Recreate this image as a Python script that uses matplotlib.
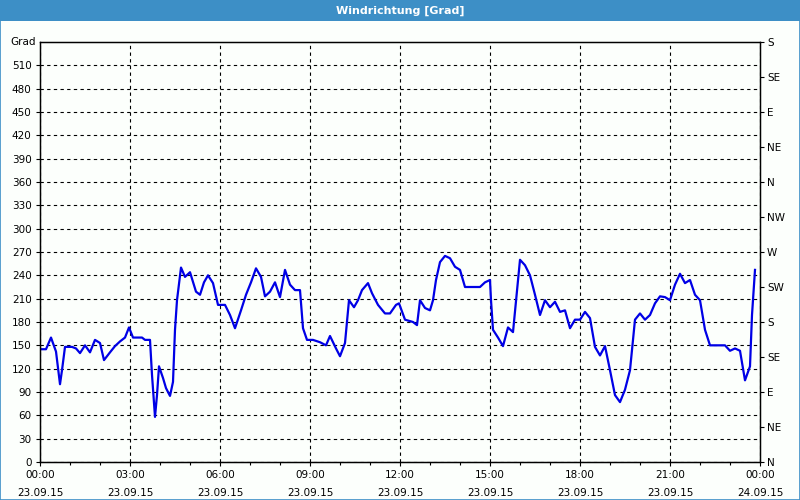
import matplotlib
matplotlib.use('Agg')
from matplotlib import pyplot as plt
from matplotlib.patches import Rectangle

# minutes since 23.09.15 00:00 and wind direction in degrees
minutes = [0, 12, 22, 32, 40, 44, 50, 64, 72, 80,
           90, 100, 110, 120, 128, 140, 150, 160, 170, 178,
           186, 204, 210, 220, 224, 230, 234, 238, 246, 252,
           260, 266, 270, 274, 282, 290, 300, 312, 320, 328,
           336, 346, 356, 370, 380, 390, 402, 412, 422, 432,
           442, 450, 460, 470, 480, 490, 500, 510, 520, 526,
           534, 546, 560, 572, 580, 592, 600, 610, 618, 628,
           636, 644, 656, 664, 676, 690, 700, 712, 718, 730,
           746, 754, 760, 770, 780, 786, 792, 800, 810, 820,
           830, 840, 850, 860, 880, 890, 900, 902, 906, 916,
           926, 936, 946, 960, 970, 980, 990, 1000, 1010, 1020,
           1030, 1040, 1050, 1060, 1070, 1080, 1090, 1100, 1110, 1120,
           1130, 1140, 1150, 1160, 1170, 1180, 1190, 1200, 1210, 1220,
           1230, 1240, 1250, 1260, 1270, 1280, 1290, 1300, 1310, 1320,
           1330, 1340, 1370, 1380, 1390, 1400, 1410, 1420, 1424, 1430]
grad = [145, 145, 160, 142, 100, 118, 148, 148, 146, 140,
        150, 141, 157, 153, 131, 141, 149, 155, 160, 173,
        160, 160, 157, 157, 112, 58, 86, 123, 108, 95,
        85, 103, 170, 208, 250, 238, 244, 219, 215, 231,
        240, 230, 202, 202, 189, 172, 195, 215, 231, 249,
        238, 213, 219, 231, 212, 247, 228, 221, 221, 172,
        157, 157, 154, 150, 162, 146, 136, 153, 208, 199,
        208, 221, 230, 217, 202, 191, 191, 202, 204, 183,
        180, 176, 208, 198, 195, 208, 234, 257, 265, 262,
        251, 247, 225, 225, 225, 231, 234, 208, 170, 160,
        149, 173, 167, 260, 253, 240, 215, 189, 208, 199,
        206, 193, 195, 172, 183, 183, 193, 185, 148, 137,
        149, 118, 86, 77, 93, 118, 183, 191, 183, 189,
        204, 213, 212, 208, 228, 242, 230, 234, 215, 208,
        170, 150, 150, 143, 146, 143, 105, 123, 189, 247]

x_ticks = [0, 180, 360, 540, 720, 900, 1080, 1260, 1440]
x_labels = ['00:00\n23.09.15', '03:00\n23.09.15', '06:00\n23.09.15',
            '09:00\n23.09.15', '12:00\n23.09.15', '15:00\n23.09.15',
            '18:00\n23.09.15', '21:00\n23.09.15', '00:00\n24.09.15']
y_ticks = list(range(0, 511, 30))
dir_ticks = list(range(0, 541, 45))
dir_labels = ['N', 'NE', 'E', 'SE', 'S', 'SW', 'W', 'NW',
              'N', 'NE', 'E', 'SE', 'S']

bar_blue = '#3d8fc6'
fs = 7.5

fig = plt.figure(figsize=(8, 5), dpi=100, facecolor='#fcfffc')
# title bar and frame
fig.patches.append(Rectangle((0, 0.958), 1, 0.042, transform=fig.transFigure,
                             facecolor=bar_blue, edgecolor='none'))
fig.patches.append(Rectangle((0.0006, 0.001), 0.9988, 0.998, transform=fig.transFigure,
                             facecolor='none', edgecolor=bar_blue, linewidth=1.2))
fig.text(0.5, 0.979, 'Windrichtung [Grad]', color='white', fontsize=8,
         fontweight='bold', ha='center', va='center')

ax = fig.add_axes([0.05, 0.076, 0.9, 0.84])
ax.set_facecolor('#fcfffc')
ax.plot(minutes, grad, color='#0000e6', linewidth=1.6)

ax.set_xlim(0, 1440)
ax.set_ylim(0, 540)
ax.set_xticks(x_ticks)
ax.set_xticklabels(x_labels, fontsize=fs, linespacing=1.9)
ax.set_xticks(range(0, 1441, 60), minor=True)
ax.set_yticks(y_ticks)
ax.set_yticklabels([str(v) for v in y_ticks], fontsize=fs)
ax.tick_params(axis='both', which='both', direction='out', length=3,
               width=0.8, pad=3, colors='black')
ax.tick_params(axis='x', which='minor', length=2)
ax.grid(True, which='major', color='black', linestyle=(0, (3, 3)), linewidth=0.8)
for s in ax.spines.values():
    s.set_color('black')
    s.set_linewidth(1.0)
ax.text(-8, 540, 'Grad', fontsize=fs, ha='right', va='center')

ax2 = ax.twinx()
ax2.set_ylim(0, 540)
ax2.set_yticks(dir_ticks)
ax2.set_yticklabels(dir_labels, fontsize=fs)
ax2.tick_params(axis='y', direction='out', length=3, width=0.8, pad=2)

fig.savefig('out.png', dpi=100, facecolor=fig.get_facecolor())
